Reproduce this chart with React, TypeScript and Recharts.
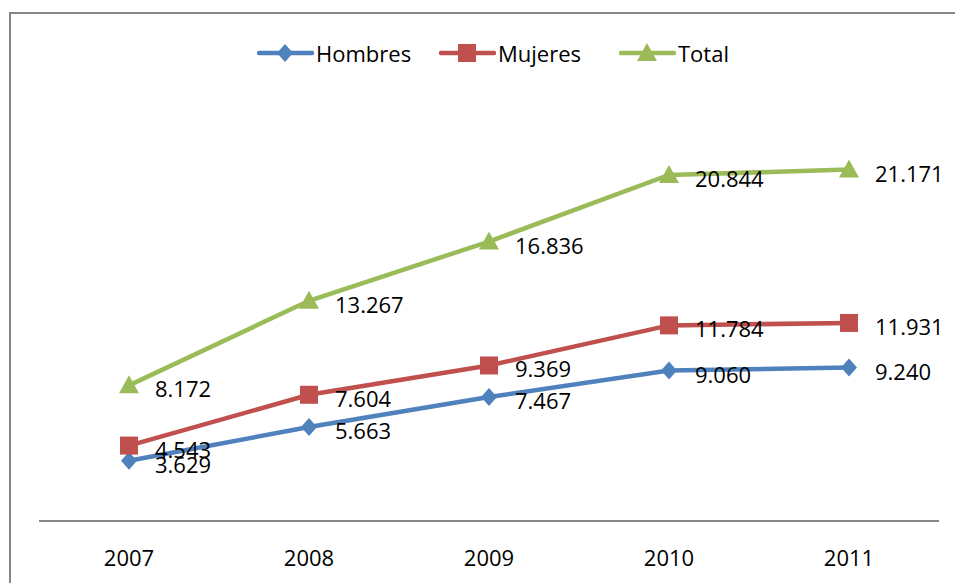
import React from "react";
import { LineChart, Line, XAxis, YAxis, LabelList } from "recharts";

const years = ["2007", "2008", "2009", "2010", "2011"];
const hombres = [3.629, 5.663, 7.467, 9.06, 9.24];
const mujeres = [4.543, 7.604, 9.369, 11.784, 11.931];
const total = [8.172, 13.267, 16.836, 20.844, 21.171];

const data = years.map((year, i) => ({
  year,
  hombres: hombres[i],
  mujeres: mujeres[i],
  total: total[i],
}));

const FONT = "'Open Sans', sans-serif";
const BLUE = "#4F81BD";
const RED = "#C0504D";
const GREEN = "#9BBB59";

const fmt = (v: number) => v.toFixed(3);

function Diamond({ cx, cy, fill }: any) {
  if (cx == null || cy == null) return null;
  return <polygon points={`${cx},${cy - 9} ${cx + 8},${cy} ${cx},${cy + 9} ${cx - 8},${cy}`} fill={fill} />;
}

function Square({ cx, cy, fill }: any) {
  if (cx == null || cy == null) return null;
  return <rect x={cx - 9} y={cy - 9} width={18} height={18} fill={fill} />;
}

function Triangle({ cx, cy, fill }: any) {
  if (cx == null || cy == null) return null;
  return <polygon points={`${cx},${cy - 10} ${cx + 10},${cy + 8} ${cx - 10},${cy + 8}`} fill={fill} />;
}

function ValueLabel({ x, y, value }: any) {
  return (
    <text
      x={x + 26}
      y={y + 3}
      fontSize={22}
      fontFamily={FONT}
      fill="#000"
      dominantBaseline="central"
    >
      {fmt(value)}
    </text>
  );
}

const legendItems = [
  { name: "Hombres", color: BLUE, left: 257, marker: "diamond" },
  { name: "Mujeres", color: RED, left: 439, marker: "square" },
  { name: "Total", color: GREEN, left: 619, marker: "triangle" },
];

function LegendIcon({ color, marker }: { color: string; marker: string }) {
  return (
    <svg width={57} height={22} style={{ display: "block" }}>
      <line x1={2} y1={11} x2={55} y2={11} stroke={color} strokeWidth={4.5} strokeLinecap="round" />
      {marker === "diamond" && <Diamond cx={28} cy={11} fill={color} />}
      {marker === "square" && <Square cx={28} cy={11} fill={color} />}
      {marker === "triangle" && <Triangle cx={28} cy={11} fill={color} />}
    </svg>
  );
}

export default function App() {
  return (
    <div
      style={{
        position: "absolute",
        left: 0,
        top: 0,
        width: 955,
        height: 583,
        overflow: "hidden",
        background: "#fff",
      }}
    >
      {/* chart frame, cut off by the page edge on the right and bottom */}
      <div
        style={{
          position: "absolute",
          left: 9,
          top: 12,
          width: 980,
          height: 600,
          border: "2px solid #868686",
        }}
      />

      {/* legend */}
      {legendItems.map((item) => (
        <div
          key={item.name}
          style={{
            position: "absolute",
            left: item.left,
            top: 40,
            display: "flex",
            alignItems: "center",
            fontFamily: FONT,
            fontSize: 22,
            color: "#000",
            lineHeight: "26px",
          }}
        >
          <LegendIcon color={item.color} marker={item.marker} />
          <span style={{ marginLeft: 2 }}>{item.name}</span>
        </div>
      ))}

      <div style={{ position: "absolute", left: 0, top: 0 }}>
        <LineChart
          width={955}
          height={583}
          data={data}
          margin={{ top: 106, right: 16, left: 39, bottom: 32 }}
        >
          <XAxis
            dataKey="year"
            height={30}
            padding={{ left: 90, right: 90 }}
            axisLine={{ stroke: "#868686", strokeWidth: 2 }}
            tickLine={false}
            tick={{ fontSize: 22, fontFamily: FONT, fill: "#000" }}
            tickMargin={23}
          />
          <YAxis hide domain={[0, 25]} />
          <Line
            dataKey="hombres"
            stroke={BLUE}
            strokeWidth={4.5}
            isAnimationActive={false}
            dot={<Diamond fill={BLUE} />}
            activeDot={false}
          >
            <LabelList dataKey="hombres" content={<ValueLabel />} />
          </Line>
          <Line
            dataKey="mujeres"
            stroke={RED}
            strokeWidth={4.5}
            isAnimationActive={false}
            dot={<Square fill={RED} />}
            activeDot={false}
          >
            <LabelList dataKey="mujeres" content={<ValueLabel />} />
          </Line>
          <Line
            dataKey="total"
            stroke={GREEN}
            strokeWidth={4.5}
            isAnimationActive={false}
            dot={<Triangle fill={GREEN} />}
            activeDot={false}
          >
            <LabelList dataKey="total" content={<ValueLabel />} />
          </Line>
        </LineChart>
      </div>
    </div>
  );
}
